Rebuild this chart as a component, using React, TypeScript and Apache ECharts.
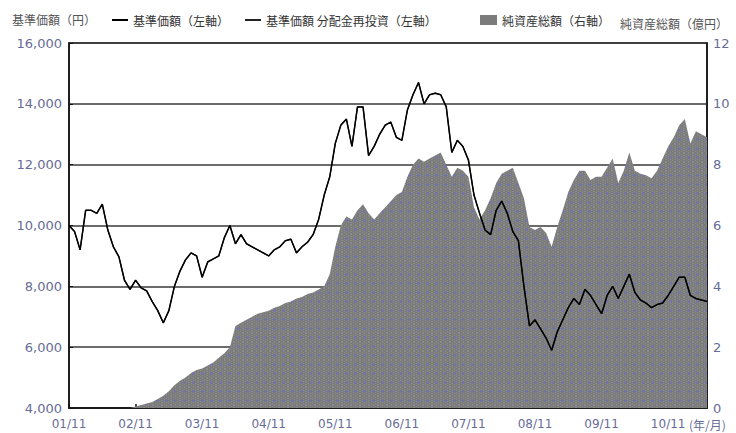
import React, { useEffect, useRef } from "react";
import * as echarts from "echarts";

// Monthly categories from 2001/11 to 2011/06 (YY/MM)
const START_YEAR = 2001;
const START_MONTH = 11;
const MONTH_COUNT = 116;
const categories: string[] = [];
for (let i = 0; i < MONTH_COUNT; i++) {
  const t = START_MONTH - 1 + i;
  const y = START_YEAR + Math.floor(t / 12);
  const m = (t % 12) + 1;
  categories.push(String(y % 100).padStart(2, "0") + "/" + String(m).padStart(2, "0"));
}

// 基準価額 (円) – left axis
const navValues: number[] = [
  10000, 9800, 9200, 10500, 10500, 10400, 10700, 9850, 9300, 8970, 8200, 7900,
  8200, 7950, 7850, 7500, 7200, 6800, 7200, 8000, 8500, 8870, 9100, 9000,
  8300, 8800, 8900, 9000, 9600, 10000, 9400, 9700, 9400, 9300, 9200, 9100,
  9000, 9200, 9300, 9500, 9550, 9100, 9300, 9450, 9700, 10200, 11000, 11600,
  12700, 13300, 13500, 12600, 13900, 13900, 12300, 12600, 13000, 13300, 13400, 12900,
  12800, 13800, 14300, 14700, 14000, 14300, 14350, 14300, 13900, 12400, 12800, 12600,
  12150, 11000, 10400, 9850, 9700, 10500, 10800, 10400, 9800, 9500, 8000, 6700,
  6900, 6600, 6300, 5900, 6500, 6900, 7300, 7600, 7400, 7900, 7700, 7400,
  7100, 7700, 8000, 7600, 8000, 8400, 7800, 7550, 7450, 7300, 7400, 7450,
  7700, 8000, 8300, 8300, 7700, 7600, 7550, 7500,
];

// 基準価額 分配金再投資 (円) – left axis (overlaps the NAV line)
const navReinvestedValues: number[] = navValues.slice();

// 純資産総額 (億円) – right axis
const netAssetValues: number[] = [
  0, 0, 0, 0, 0, 0, 0, 0, 0, 0, 0, 0,
  0.05, 0.1, 0.15, 0.2, 0.3, 0.4, 0.55, 0.75, 0.9, 1.0, 1.15, 1.25,
  1.3, 1.4, 1.5, 1.65, 1.8, 2.0, 2.7, 2.8, 2.9, 3.0, 3.1, 3.15,
  3.2, 3.3, 3.35, 3.45, 3.5, 3.6, 3.65, 3.75, 3.8, 3.9, 4.0, 4.4,
  5.3, 6.0, 6.3, 6.2, 6.5, 6.7, 6.4, 6.2, 6.4, 6.6, 6.8, 7.0,
  7.1, 7.6, 8.0, 8.2, 8.1, 8.2, 8.3, 8.4, 8.0, 7.6, 7.9, 7.8,
  7.6, 6.6, 6.2, 6.5, 6.9, 7.4, 7.7, 7.8, 7.9, 7.4, 6.9, 5.95,
  5.85, 5.95, 5.75, 5.3, 5.95, 6.5, 7.1, 7.5, 7.8, 7.8, 7.5, 7.6,
  7.6, 7.9, 8.2, 7.4, 7.8, 8.4, 7.8, 7.7, 7.65, 7.55, 7.8, 8.2,
  8.6, 8.9, 9.3, 9.5, 8.7, 9.1, 9.0, 8.9,
];

const leftTicks = { min: 4000, max: 16000, interval: 2000 };
const rightTicks = { min: 0, max: 12, interval: 2 };

const NAME_NAV = "基準価額（左軸）";
const NAME_REINV = "基準価額 分配金再投資（左軸）";
const NAME_ASSETS = "純資産総額（右軸）";

function makePattern(): any {
  try {
    const c = document.createElement("canvas");
    c.width = 9;
    c.height = 9;
    const ctx = c.getContext("2d");
    if (!ctx) return "#7b7b7b";
    ctx.fillStyle = "#7b7b7b";
    ctx.fillRect(0, 0, 9, 9);
    ctx.fillStyle = "#8a8a8a";
    for (let x = 0; x < 9; x += 2) {
      for (let y = (x / 2) % 2; y < 9; y += 2) ctx.fillRect(x, y, 1, 1);
    }
    ctx.fillStyle = "#6f74b8";
    ctx.fillRect(4, 3, 1, 3);
    ctx.fillRect(3, 4, 3, 1);
    return { image: c.toDataURL(), repeat: "repeat" };
  } catch (e) {
    return "#7b7b7b";
  }
}

export default function App() {
  const ref = useRef<HTMLDivElement>(null);

  useEffect(() => {
    document.body.style.margin = "0";
    if (!ref.current) return;
    const chart = echarts.init(ref.current, undefined, { renderer: "svg" });
    const axisLabelColor = "#676c96";
    const digitFont = "DejaVu Sans";
    const cjkFont = "Noto Sans CJK JP";
    const legendText = { fontSize: 12, color: "#333", fontFamily: cjkFont };

    chart.setOption({
      animation: false,
      backgroundColor: "#fff",
      grid: {
        left: 69,
        right: 29,
        top: 43,
        bottom: 25,
        show: true,
        borderColor: "#111",
        borderWidth: 1.5,
        containLabel: false,
      },
      legend: [
        {
          data: [{ name: NAME_NAV, icon: "rect" }],
          left: 107,
          top: 9,
          itemWidth: 16,
          itemHeight: 2,
          textStyle: legendText,
        },
        {
          data: [{ name: NAME_REINV, icon: "rect" }],
          left: 240,
          top: 9,
          itemWidth: 16,
          itemHeight: 2,
          textStyle: legendText,
        },
        {
          data: [{ name: NAME_ASSETS, icon: "rect" }],
          left: 475,
          top: 9,
          itemWidth: 17,
          itemHeight: 10,
          textStyle: legendText,
        },
      ],
      graphic: [
        {
          type: "text",
          left: 12,
          top: 13,
          style: { text: "基準価額（円）", fontSize: 12, fill: "#555", fontFamily: cjkFont },
        },
        {
          type: "text",
          left: 620,
          top: 17,
          style: { text: "純資産総額（億円）", fontSize: 12, fill: "#555", fontFamily: cjkFont },
        },
        {
          type: "text",
          left: 689,
          top: 418,
          style: { text: "(年/月)", fontSize: 12, fill: axisLabelColor, fontFamily: cjkFont },
        },
      ],
      xAxis: {
        type: "category",
        data: categories,
        boundaryGap: false,
        axisLine: { lineStyle: { color: "#111", width: 1.5 } },
        axisTick: {
          show: true,
          inside: true,
          length: 4,
          interval: (index: number) => index % 12 === 0,
          lineStyle: { color: "#111", width: 1.5 },
        },
        axisLabel: {
          interval: (index: number) => index % 12 === 0,
          color: axisLabelColor,
          fontSize: 12,
          fontFamily: digitFont,
          margin: 10,
        },
        splitLine: { show: false },
      },
      yAxis: [
        {
          type: "value",
          min: leftTicks.min,
          max: leftTicks.max,
          interval: leftTicks.interval,
          axisLine: { show: true, lineStyle: { color: "#111", width: 1.5 } },
          axisTick: { show: true, inside: true, length: 4, lineStyle: { color: "#111" } },
          axisLabel: {
            color: axisLabelColor,
            fontSize: 13,
            fontFamily: digitFont,
            margin: 7,
            formatter: (v: number) => v.toLocaleString("en-US"),
          },
          splitLine: { show: true, lineStyle: { color: "#3a3a3a", width: 1.5 } },
        },
        {
          type: "value",
          min: rightTicks.min,
          max: rightTicks.max,
          interval: rightTicks.interval,
          position: "right",
          axisLine: { show: true, lineStyle: { color: "#111", width: 1.5 } },
          axisTick: { show: false },
          axisLabel: {
            color: axisLabelColor,
            fontSize: 13,
            fontFamily: digitFont,
            margin: 6,
          },
          splitLine: { show: false },
        },
      ],
      series: [
        {
          name: NAME_ASSETS,
          type: "line",
          yAxisIndex: 1,
          data: netAssetValues,
          symbol: "none",
          lineStyle: { width: 0, color: "#7b7b7b" },
          itemStyle: { color: "#7b7b7b" },
          areaStyle: { color: makePattern(), opacity: 1 },
          z: 1,
        },
        {
          name: NAME_REINV,
          type: "line",
          yAxisIndex: 0,
          data: navReinvestedValues,
          symbol: "none",
          lineStyle: { width: 1.2, color: "#222" },
          itemStyle: { color: "#222" },
          z: 3,
        },
        {
          name: NAME_NAV,
          type: "line",
          yAxisIndex: 0,
          data: navValues,
          symbol: "none",
          lineStyle: { width: 1.5, color: "#000" },
          itemStyle: { color: "#000" },
          z: 4,
        },
      ],
    });

    return () => {
      chart.dispose();
    };
  }, []);

  return <div ref={ref} style={{ width: 736, height: 433 }} />;
}
